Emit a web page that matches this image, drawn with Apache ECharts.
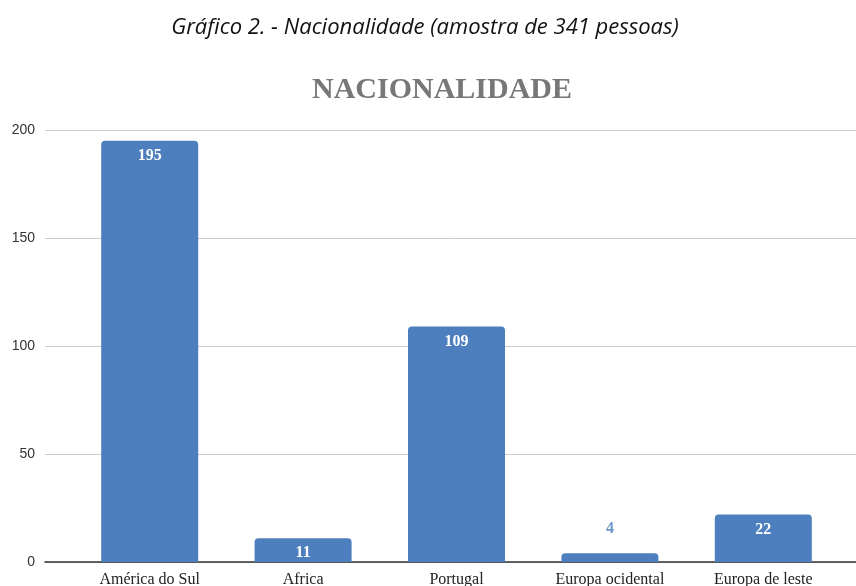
<!DOCTYPE html>
<html>
<head>
<meta charset="utf-8">
<script src="https://cdn.jsdelivr.net/npm/echarts@6/dist/echarts.min.js"></script>
<style>
  html, body { margin: 0; padding: 0; background: #fff; }
  #chart { width: 856px; height: 586px; }
</style>
</head>
<body>
<div id="chart"></div>
<script>
const categories = ['América do Sul', 'Africa', 'Portugal', 'Europa ocidental', 'Europa de leste']
const values = [195, 11, 109, 4, 22]
const yTicks = [0, 50, 100, 150, 200]

const chart = echarts.init(document.getElementById('chart'))

// small bars get their label above, in the bar colour
const barData = values.map(v => v < 8
  ? { value: v, label: { position: 'top', color: '#6f95cc', distance: 17 } }
  : v)

const yMin = yTicks[0]
const yMax = yTicks[yTicks.length - 1]

const option = {
  animation: false,
  title: [
    {
      text: 'Gráfico 2. - Nacionalidade (amostra de 341 pessoas)',
      left: 420,
      top: 12,
      textAlign: 'center',
      textStyle: {
        fontFamily: 'Open Sans',
        fontStyle: 'italic',
        fontWeight: 'normal',
        fontSize: 22,
        color: '#111'
      }
    },
    {
      text: 'NACIONALIDADE',
      left: 437,
      top: 70,
      textAlign: 'center',
      textStyle: {
        fontFamily: 'Liberation Serif',
        fontWeight: 'bold',
        fontSize: 30,
        color: '#777'
      }
    }
  ],
  // grid 0 carries gridlines and y labels across the full width, grid 1 the bars
  grid: [
    { left: 45, right: 0, top: 130, bottom: 24, outerBoundsMode: 'none' },
    { left: 73, right: 16, top: 130, bottom: 24, outerBoundsMode: 'none' }
  ],
  xAxis: [
    {
      gridIndex: 0,
      type: 'value',
      min: 0,
      max: 1,
      splitLine: { show: false },
      axisTick: { show: false },
      axisLabel: { show: false },
      axisLine: { onZero: false, lineStyle: { color: '#333', width: 1.5 } }
    },
    {
      gridIndex: 1,
      type: 'category',
      data: categories,
      axisTick: { show: false },
      axisLine: { show: false },
      axisLabel: {
        fontFamily: 'Liberation Serif',
        fontSize: 16,
        color: '#222',
        margin: 10
      }
    }
  ],
  yAxis: [
    {
      gridIndex: 0,
      type: 'value',
      min: yMin,
      max: yMax,
      interval: 50,
      axisLine: { show: false },
      axisTick: { show: false },
      splitLine: { lineStyle: { color: '#ccc' } },
      axisLabel: {
        fontFamily: 'Liberation Sans',
        fontSize: 14,
        color: '#333',
        margin: 10
      }
    },
    {
      gridIndex: 1,
      type: 'value',
      min: yMin,
      max: yMax,
      show: false
    }
  ],
  series: [
    {
      type: 'bar',
      xAxisIndex: 1,
      yAxisIndex: 1,
      data: barData,
      barWidth: 97,
      itemStyle: { color: '#4d7ebd', borderRadius: [4, 4, 0, 0] },
      label: {
        show: true,
        position: 'insideTop',
        distance: 7,
        color: '#fff',
        fontFamily: 'Liberation Serif',
        fontWeight: 'bold',
        fontSize: 16
      }
    }
  ]
}

chart.setOption(option)
</script>
</body>
</html>
